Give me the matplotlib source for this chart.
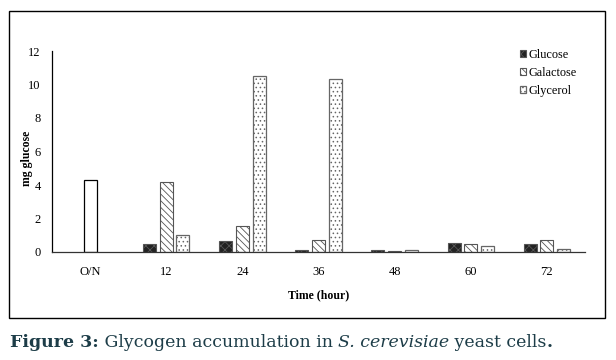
import matplotlib
matplotlib.use("Agg")
import matplotlib.pyplot as plt
import numpy as np
from matplotlib.patches import Rectangle

categories = ["O/N", "12", "24", "36", "48", "60", "72"]
glucose = [0, 0.47, 0.67, 0.10, 0.10, 0.56, 0.45]
galactose = [0, 4.20, 1.57, 0.72, 0.08, 0.50, 0.72]
glycerol = [0, 1.00, 10.50, 10.35, 0.09, 0.36, 0.17]
overnight = [4.30, 0, 0, 0, 0, 0, 0]
yticks = [0, 2, 4, 6, 8, 10, 12]

plt.rcParams['font.family'] = ['Liberation Serif', 'DejaVu Serif']
plt.rcParams['hatch.linewidth'] = 0.6

fig = plt.figure(figsize=(6.16, 3.60), dpi=100)
fig.patches.append(Rectangle((9/616, 1-318/360), (605-9)/616, (318-11)/360,
                             transform=fig.transFigure, fill=False,
                             edgecolor='black', linewidth=1.0))
ax = fig.add_axes([52/616, 1-252/360, (585-52)/616, (252-51)/360])

x = np.arange(len(categories))
w = 0.17
off = 0.22
ax.bar(x[1:] - off, glucose[1:], w, facecolor='#222222', edgecolor='#555555',
       hatch='xxxx', linewidth=0.8, label='Glucose')
ax.bar(x[1:], galactose[1:], w, facecolor='white', edgecolor='#555555',
       hatch='\\\\\\\\\\', linewidth=0.8, label='Galactose')
ax.bar(x[1:] + off, glycerol[1:], w, facecolor='white', edgecolor='#666666',
       hatch='....', linewidth=0.9, label='Glycerol')
ax.bar(x[:1], overnight[:1], w, facecolor='white', edgecolor='black', linewidth=0.9)

ax.set_xlim(-0.5, len(categories) - 0.5)
ax.set_ylim(0, 12)
ax.set_yticks(yticks)
ax.set_xticks(x)
ax.set_xticklabels(categories)
ax.tick_params(axis='both', length=0, labelsize=9)
ax.tick_params(axis='x', pad=10)
ax.tick_params(axis='y', pad=8)
for s in ['top', 'right']:
    ax.spines[s].set_visible(False)
ax.spines['left'].set_linewidth(0.9)
ax.spines['bottom'].set_linewidth(0.9)
ax.spines['bottom'].set_color('#333333')

ax.set_ylabel('mg glucose', fontsize=8.5, fontweight='bold')
ax.yaxis.set_label_coords((33 - 52) / 533, (252 - 158) / 201)
ax.set_xlabel('Time (hour)', fontsize=8.5, fontweight='bold', labelpad=8)

leg = ax.legend(loc='upper left', bbox_to_anchor=(0.868, 1.035), frameon=False,
                fontsize=8.8, handlelength=0.55, handleheight=0.55,
                handletextpad=0.15, labelspacing=0.5, borderaxespad=0)

cap_color = '#1d3d48'
fs = 12.5
y_cap = 1 - 347/360
pieces = [('Figure 3:', dict(fontweight='bold')),
          (' Glycogen accumulation in ', {}),
          ('S. cerevisiae', dict(style='italic')),
          (' yeast cells', {}),
          ('.', dict(fontweight='bold'))]
fig.canvas.draw()
renderer = fig.canvas.get_renderer()
xpos = 10
for txt, kw in pieces:
    t = fig.text(xpos/616, y_cap, txt, fontsize=fs, color=cap_color,
                 family=['DejaVu Serif'], va='baseline', **kw)
    bb = t.get_window_extent(renderer=renderer)
    xpos += bb.width
fig.savefig('out.png', dpi=100)
